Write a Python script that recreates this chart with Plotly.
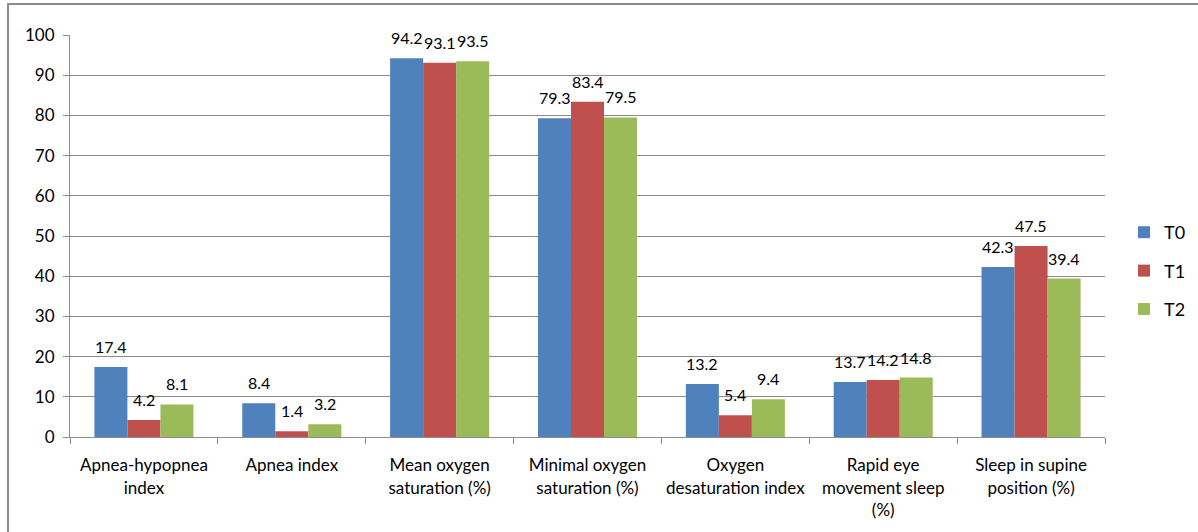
import plotly.graph_objects as go

categories = [
    "Apnea-hypopnea<br>index",
    "Apnea index",
    "Mean oxygen<br>saturation (%)",
    "Minimal oxygen<br>saturation (%)",
    "Oxygen<br>desaturation index",
    "Rapid eye<br>movement sleep<br>(%)",
    "Sleep in supine<br>position (%)",
]
series_names = ["T0", "T1", "T2"]
t0 = [17.4, 8.4, 94.2, 79.3, 13.2, 13.7, 42.3]
t1 = [4.2, 1.4, 93.1, 83.4, 5.4, 14.2, 47.5]
t2 = [8.1, 3.2, 93.5, 79.5, 9.4, 14.8, 39.4]
y_ticks = [0, 10, 20, 30, 40, 50, 60, 70, 80, 90, 100]

colors = ["#4F81BD", "#C0504D", "#9BBB59"]
FONT = "Lato, 'Open Sans', sans-serif"

fig = go.Figure()
all_series = [t0, t1, t2]
for name, vals, col in zip(series_names, all_series, colors):
    fig.add_trace(go.Bar(
        x=categories, y=vals, name=name, marker_color=col,
        marker_line_width=0, legendgroup=name,
    ))

# data labels
bar_w = 33
for i, vals in enumerate(all_series):
    for c, v in zip(categories, vals):
        fig.add_annotation(
            x=c, y=v, text=f"{v}", showarrow=False,
            xshift=(i - 1) * bar_w, yshift=9, yanchor="bottom",
            font=dict(family=FONT, size=16, color="#000"),
        )

# outer frame
L, R, T, B = 70, 93, 35, 95
W, H = 1198 - L - R, 532 - T - B
def px(x):
    return (x - L) / W
def py(y):
    return (532 - B - y) / H
fig.add_shape(type="rect", xref="paper", yref="paper",
              x0=px(8), x1=px(1210), y0=py(545), y1=py(4),
              line=dict(color="#8c8c8c", width=2), fillcolor="rgba(0,0,0,0)")

fig.update_layout(
    width=1198, height=532,
    margin=dict(l=L, r=R, t=T, b=B, autoexpand=False),
    paper_bgcolor="white", plot_bgcolor="white",
    barmode="group", bargap=0.33, bargroupgap=0,
    font=dict(family=FONT, size=16, color="#000"),
    showlegend=True,
    legend=dict(x=px(1124), y=py(214), xanchor="left", yanchor="top",
                font=dict(family=FONT, size=18, color="#000"),
                tracegroupgap=12, itemwidth=30, bgcolor="rgba(0,0,0,0)"),
    xaxis=dict(
        showgrid=False, showline=True, linecolor="#8c8c8c", linewidth=1,
        ticks="outside", ticklen=6, tickcolor="#8c8c8c", tickson="boundaries",
        tickfont=dict(family=FONT, size=17, color="#000"),
        ticklabelstandoff=13, tickangle=0,
    ),
    yaxis=dict(
        range=[0, 100], tickvals=y_ticks, showgrid=True, gridcolor="#8c8c8c",
        gridwidth=1, showline=True, linecolor="#8c8c8c", linewidth=1,
        ticks="outside", ticklen=6, tickcolor="#8c8c8c", zeroline=False,
        tickfont=dict(family=FONT, size=17, color="#000"),
        ticklabelstandoff=5,
    ),
)

fig.write_html("out.html")
